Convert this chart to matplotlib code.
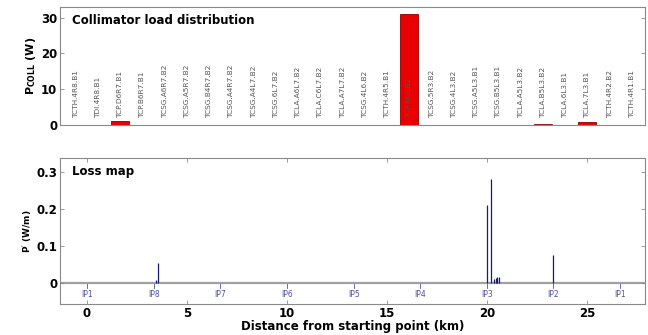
import matplotlib
matplotlib.use("Agg")
import matplotlib.pyplot as plt
import numpy as np

# collimator load (top panel)
coll_names = [
    "TCTH.4R8.B1", "TDI.4R8.B1", "TCP.D6R7.B1", "TCP.B6R7.B1",
    "TCSG.A6R7.B2", "TCSG.A5R7.B2", "TCSG.B4R7.B2", "TCSG.A4R7.B2",
    "TCSG.A4L7.B2", "TCSG.6L7.B2", "TCLA.A6L7.B2", "TCLA.C6L7.B2",
    "TCLA.A7L7.B2", "TCSG.4L6.B2", "TCTH.4R5.B1", "TCP.6L3.B2",
    "TCSG.5R3.B2", "TCSG.4L3.B2", "TCSG.A5L3.B1", "TCSG.B5L3.B1",
    "TCLA.A5L3.B2", "TCLA.B5L3.B2", "TCLA.6L3.B1", "TCLA.7L3.B1",
    "TCTH.4R2.B2", "TCTH.4R1.B1",
]
coll_load = [0, 0, 1.2, 0, 0, 0, 0, 0, 0, 0, 0, 0, 0,
             0, 0, 31.0, 0, 0, 0, 0, 0, 0.25, 0, 0.9, 0, 0]

# loss map (bottom panel)
loss_pos = [3.45, 3.55, 20.0, 20.2, 20.35, 20.42, 20.5, 20.58, 23.3]
loss_val = [0.008, 0.055, 0.21, 0.28, 0.012, 0.015, 0.018, 0.016, 0.075]

ip_names = ["IP1", "IP8", "IP7", "IP6", "IP5", "IP4", "IP3", "IP2", "IP1"]
ip_pos = [0.0, 3.33, 6.66, 10.0, 13.33, 16.66, 20.0, 23.3, 26.66]

plt.rcParams["font.family"] = ["DejaVu Sans"]
spine_col = "#8a8a8a"

fig = plt.figure(figsize=(6.48, 3.35), dpi=100)
ax1 = fig.add_axes([0.0926, 0.627, 0.903, 0.352])
ax2 = fig.add_axes([0.0926, 0.0925, 0.903, 0.436])

# --- top panel ---
x = np.arange(1, len(coll_names) + 1)
cols = ["#e80000" if v > 0.5 else "#555555" for v in coll_load]
ax1.bar(x, coll_load, width=0.8, color=cols, edgecolor="#8b0000", linewidth=0.6, zorder=2)
for xi, name in zip(x, coll_names):
    ax1.text(xi, 2.0, name, rotation=90, ha="center", va="bottom",
             fontsize=5.3, color="#555555", zorder=3)
ax1.set_xlim(0.3, 26.6)
ax1.set_ylim(0, 33)
ax1.set_yticks([0, 10, 20, 30])
ax1.set_xticks([])
ax1.set_ylabel(r"P$_{\mathbf{COLL}}$ (W)", fontsize=8, fontweight="bold", labelpad=2)
ax1.text(0.02, 0.94, "Collimator load distribution", transform=ax1.transAxes,
         fontsize=8.5, fontweight="bold", ha="left", va="top")

# --- bottom panel ---
ax2.axhline(0, color="#a0a0a0", linewidth=1.6, zorder=1)
ax2.vlines(loss_pos, 0, loss_val, color="#1a1a70", linewidth=0.9, zorder=3)
for p, n in zip(ip_pos, ip_names):
    ax2.plot([p, p], [-0.003, -0.013], color="#5050a0", linewidth=0.6)
    ax2.text(p, -0.03, n, ha="center", va="center", fontsize=5.5, color="#5050a0")
ax2.set_xlim(-1.35, 27.9)
ax2.set_ylim(-0.056, 0.338)
ax2.set_yticks([0, 0.1, 0.2, 0.3])
ax2.set_yticklabels(["0", "0.1", "0.2", "0.3"])
ax2.set_xticks([0, 5, 10, 15, 20, 25])
ax2.set_ylabel(r"P$^{'}$ (W/m)", fontsize=6.5, fontweight="bold", labelpad=2)
ax2.set_xlabel("Distance from starting point (km)", fontsize=8.5, fontweight="bold", labelpad=0)
ax2.text(0.02, 0.95, "Loss map", transform=ax2.transAxes,
         fontsize=8.5, fontweight="bold", ha="left", va="top")

for ax in (ax1, ax2):
    for s in ax.spines.values():
        s.set_color(spine_col)
    ax.tick_params(direction="in", length=3, width=0.6, color=spine_col,
                   labelsize=8.5, top=True, right=True, pad=2)
    for lbl in ax.get_xticklabels() + ax.get_yticklabels():
        lbl.set_fontweight("bold")

fig.savefig("out.png", dpi=100)
